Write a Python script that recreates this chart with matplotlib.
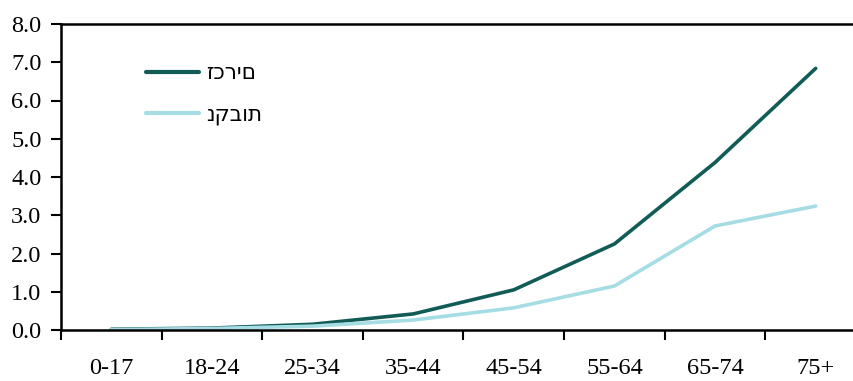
import numpy as np
import matplotlib.pyplot as plt

# age groups and rates
age_groups = ['0-17', '18-24', '25-34', '35-44', '45-54', '55-64', '65-74', '75+']
males = [0.02, 0.05, 0.15, 0.42, 1.05, 2.25, 4.38, 6.84]
females = [0.01, 0.04, 0.10, 0.26, 0.58, 1.15, 2.72, 3.24]
label_males = 'זכרים'
label_females = 'נקבות'

plt.rcParams['font.family'] = ['Liberation Serif', 'DejaVu Serif']

fig = plt.figure(figsize=(8.54, 3.81), dpi=100)
ax = fig.add_axes([61 / 854, 1 - 330 / 381, 805 / 854, 306 / 381])

xx = np.arange(len(age_groups))
ax.plot(xx, males, color='#125c57', lw=2.6, solid_capstyle='round',
        label=label_males)
ax.plot(xx, females, color='#a6dde5', lw=2.6, solid_capstyle='round',
        label=label_females)

ax.set_xlim(-0.5, len(age_groups) - 0.5)
ax.set_ylim(0, 8)
ax.set_yticks(np.arange(0, 9, 1))
ax.set_yticklabels(['%.1f' % v for v in np.arange(0, 9, 1)])

# ticks at category boundaries, labels at centres
ax.set_xticks(np.arange(-0.5, len(age_groups) + 0.5, 1))
ax.set_xticklabels([])
ax.set_xticks(xx, minor=True)
ax.set_xticklabels(age_groups, minor=True)
ax.tick_params(axis='x', which='major', direction='out', length=7, width=1.5)
ax.tick_params(axis='x', which='minor', length=0, pad=20, labelsize=17.5)
ax.tick_params(axis='y', direction='out', length=7, width=1.5, pad=7, labelsize=17.5)

ax.spines['right'].set_visible(False)
for side in ['left', 'bottom', 'top']:
    ax.spines[side].set_linewidth(1.8)

leg = ax.legend(loc='upper left', bbox_to_anchor=(0.081, 0.935), frameon=False,
                handlelength=2.5, handletextpad=0.3, labelspacing=1.0,
                prop={'family': ['DejaVu Sans'], 'size': 15.5})
for h in leg.get_lines():
    h.set_linewidth(3)

fig.savefig('out.png', dpi=100)
